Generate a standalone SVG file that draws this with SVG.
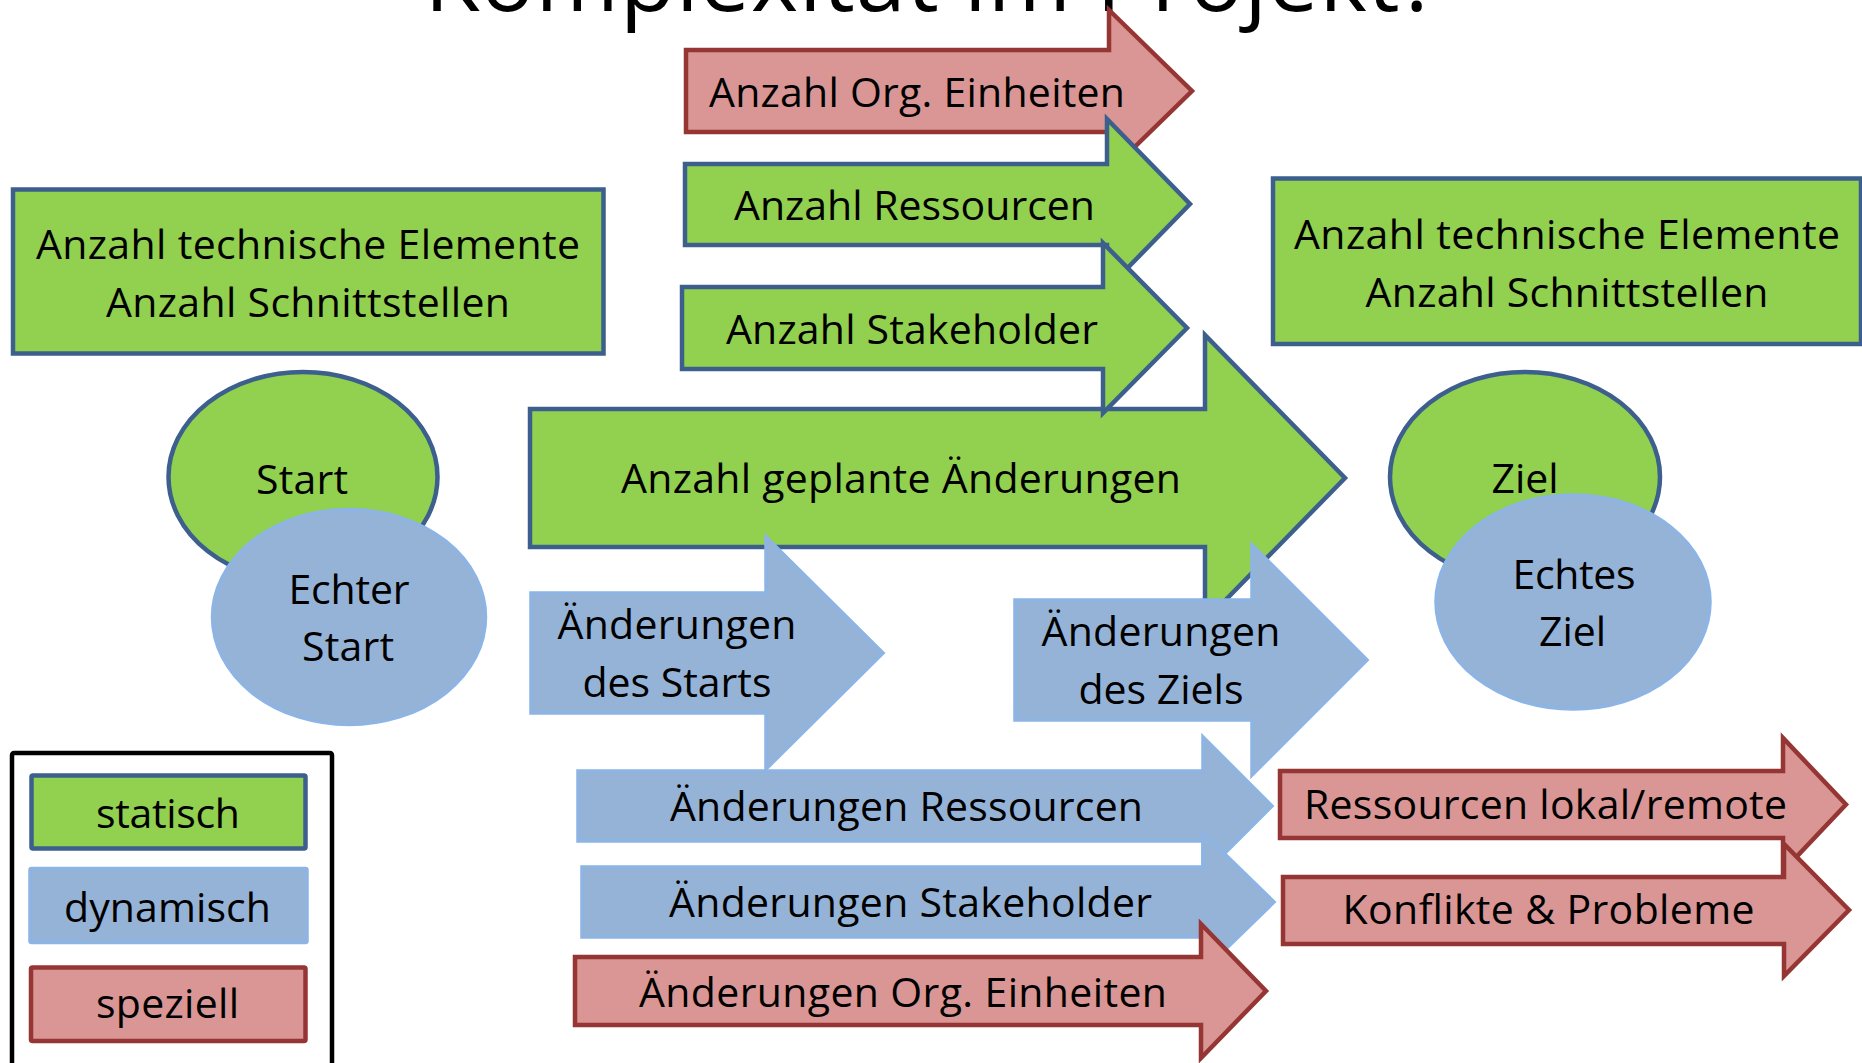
<svg xmlns="http://www.w3.org/2000/svg" width="1862" height="1063" viewBox="0 0 1862 1063">
<style>
  text { font-family: "Open Sans", "Noto Sans", "Liberation Sans", sans-serif; font-size: 41px; fill: #000; text-anchor: middle; }
  .title { font-size: 90px; }
  .g { fill: #92D050; stroke: #3C5F8D; stroke-width: 4.5; stroke-linejoin: miter; }
  .b { fill: #95B3D7; stroke: #8DB4E2; stroke-width: 3.5; stroke-linejoin: miter; }
  .r { fill: #D99694; stroke: #963634; stroke-width: 4.5; stroke-linejoin: miter; }
  .legend { fill: #FFFFFF; stroke: #000000; stroke-width: 4.5; }
</style>
<rect width="1862" height="1063" fill="#FFFFFF"/>

<g id="title">
  <text class="title" x="932" y="11" textLength="1015">Komplexität im Projekt?</text>
</g>

<g id="box-left">
  <rect class="g" x="13" y="189.5" width="590.5" height="164"/>
  <text x="308" y="259" textLength="544">Anzahl technische Elemente</text>
  <text x="308" y="316.6" textLength="404">Anzahl Schnittstellen</text>
</g>

<g id="box-right">
  <rect class="g" x="1273" y="178.5" width="588" height="165.5"/>
  <text x="1567" y="249" textLength="546">Anzahl technische Elemente</text>
  <text x="1567" y="306.5" textLength="403">Anzahl Schnittstellen</text>
</g>

<g id="arrow-geplante-aenderungen">
  <path class="g" d="M530,409 H1205 V335 L1345,478 L1205,621 V547 H530 Z"/>
  <text x="901" y="492.7" textLength="560">Anzahl geplante Änderungen</text>
</g>

<g id="arrow-org-einheiten">
  <path class="r" d="M686,50 H1109 V10 L1192,91 L1109,172 V132 H686 Z"/>
  <text x="917" y="106.7" textLength="416">Anzahl Org. Einheiten</text>
</g>

<g id="arrow-ressourcen">
  <path class="g" d="M685,164 H1107 V119 L1190,204 L1107,289 V245 H685 Z"/>
  <text x="914.5" y="220" textLength="361">Anzahl Ressourcen</text>
</g>

<g id="arrow-stakeholder">
  <path class="g" d="M682,287 H1103 V243 L1187,328 L1103,413 V369 H682 Z"/>
  <text x="912" y="343.5" textLength="372">Anzahl Stakeholder</text>
</g>

<g id="node-start">
  <ellipse class="g" cx="303" cy="477" rx="134.5" ry="105"/>
  <text x="302" y="494" textLength="92">Start</text>
</g>

<g id="node-echter-start">
  <ellipse class="b" cx="349" cy="617" rx="136.5" ry="107.5"/>
  <text x="349" y="603.8" textLength="121">Echter</text>
  <text x="348" y="661.4" textLength="92">Start</text>
</g>

<g id="node-ziel">
  <ellipse class="g" cx="1525" cy="477" rx="135" ry="105"/>
  <text x="1525" y="492.7" textLength="67">Ziel</text>
</g>

<g id="node-echtes-ziel">
  <ellipse class="b" cx="1573" cy="602" rx="137" ry="107"/>
  <text x="1574" y="589" textLength="123">Echtes</text>
  <text x="1572.5" y="646" textLength="67">Ziel</text>
</g>

<g id="arrow-aenderungen-start">
  <path class="b" d="M531,593 H766 V537 L883,653 L766,769 V713 H531 Z"/>
  <text x="677" y="639.4" textLength="239">Änderungen</text>
  <text x="677" y="697" textLength="189">des Starts</text>
</g>

<g id="arrow-aenderungen-ziel">
  <path class="b" d="M1015,600 H1252 V545 L1367,660 L1252,775 V720 H1015 Z"/>
  <text x="1161" y="645.5" textLength="239">Änderungen</text>
  <text x="1161" y="703.7" textLength="165">des Ziels</text>
</g>

<g id="arrow-aenderungen-ressourcen">
  <path class="b" d="M578,771 H1203 V737 L1272,806 L1203,875 V841 H578 Z"/>
  <text x="906.5" y="821" textLength="473">Änderungen Ressourcen</text>
</g>

<g id="arrow-aenderungen-stakeholder">
  <path class="b" d="M582,867 H1203 V833 L1274,902 L1203,971 V937 H582 Z"/>
  <text x="910.5" y="917" textLength="483">Änderungen Stakeholder</text>
</g>

<g id="arrow-aenderungen-org">
  <path class="r" d="M575,957 H1201 V924 L1266,991 L1201,1058 V1025 H575 Z"/>
  <text x="903" y="1006.8" textLength="528">Änderungen Org. Einheiten</text>
</g>

<g id="arrow-ressourcen-lokal">
  <path class="r" d="M1280,771 H1783 V738 L1846,804.5 L1783,871 V838 H1280 Z"/>
  <text x="1545.5" y="818.8" textLength="483">Ressourcen lokal/remote</text>
</g>

<g id="arrow-konflikte">
  <path class="r" d="M1283,877 H1784 V844 L1849,910 L1784,976 V944 H1283 Z"/>
  <text x="1548.6" y="923.8" textLength="412">Konflikte &amp; Probleme</text>
</g>

<g id="legend">
  <rect class="legend" x="12" y="753" width="320" height="340" rx="2"/>
  <g id="legend-statisch">
    <rect class="g" x="31.5" y="775.5" width="274" height="73" rx="1.5"/>
    <text x="168" y="828.3" textLength="144">statisch</text>
  </g>
  <g id="legend-dynamisch">
    <rect class="b" x="30" y="868.5" width="277" height="74" rx="1.5"/>
    <text x="167.5" y="921.7" textLength="207">dynamisch</text>
  </g>
  <g id="legend-speziell">
    <rect class="r" x="31" y="967.5" width="274.5" height="73.5" rx="1.5"/>
    <text x="167.5" y="1018.3" textLength="143">speziell</text>
  </g>
</g>
</svg>
